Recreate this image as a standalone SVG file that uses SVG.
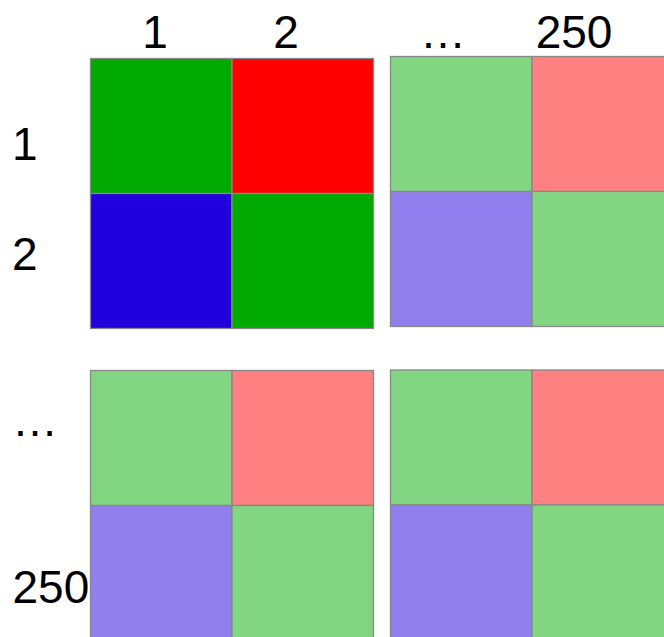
<svg xmlns="http://www.w3.org/2000/svg" width="664" height="637" viewBox="0 0 664 637">
<style>
.c{stroke:#888;stroke-width:1.3}
.g{fill:#00aa00}.r{fill:#ff0000}.b{fill:#2200dd}
.lg{fill:#82d682}.lr{fill:#ff8080}.lb{fill:#917fee}
text{font-family:"Liberation Sans",Arial,sans-serif;font-size:46px;fill:#000}
</style>
<rect width="664" height="637" fill="#fff"/>
<g id="labels">
<text x="155" y="48" text-anchor="middle">1</text>
<text x="286" y="48" text-anchor="middle">2</text>
<text x="443" y="48" text-anchor="middle">…</text>
<text x="574" y="48" text-anchor="middle">250</text>
<text x="12" y="160">1</text>
<text x="12" y="270">2</text>
<text x="12" y="436">…</text>
<text x="12.5" y="603">250</text>
</g>
<g id="block-top-left">
<rect class="c g" x="90.5" y="58.5" width="141.5" height="135"/>
<rect class="c r" x="232" y="58.5" width="141.5" height="135"/>
<rect class="c b" x="90.5" y="193.5" width="141.5" height="135"/>
<rect class="c g" x="232" y="193.5" width="141.5" height="135"/>
</g>
<g id="block-top-right">
<rect class="c lg" x="390.5" y="56.5" width="141.5" height="135"/>
<rect class="c lr" x="532" y="56.5" width="141.5" height="135"/>
<rect class="c lb" x="390.5" y="191.5" width="141.5" height="135"/>
<rect class="c lg" x="532" y="191.5" width="141.5" height="135"/>
</g>
<g id="block-bottom-left">
<rect class="c lg" x="90.5" y="370.5" width="141.5" height="135"/>
<rect class="c lr" x="232" y="370.5" width="141.5" height="135"/>
<rect class="c lb" x="90.5" y="505.5" width="141.5" height="135"/>
<rect class="c lg" x="232" y="505.5" width="141.5" height="135"/>
</g>
<g id="block-bottom-right">
<rect class="c lg" x="390.5" y="370" width="141.5" height="135"/>
<rect class="c lr" x="532" y="370" width="141.5" height="135"/>
<rect class="c lb" x="390.5" y="505" width="141.5" height="135"/>
<rect class="c lg" x="532" y="505" width="141.5" height="135"/>
</g>
<g id="connectors"/>
</svg>
